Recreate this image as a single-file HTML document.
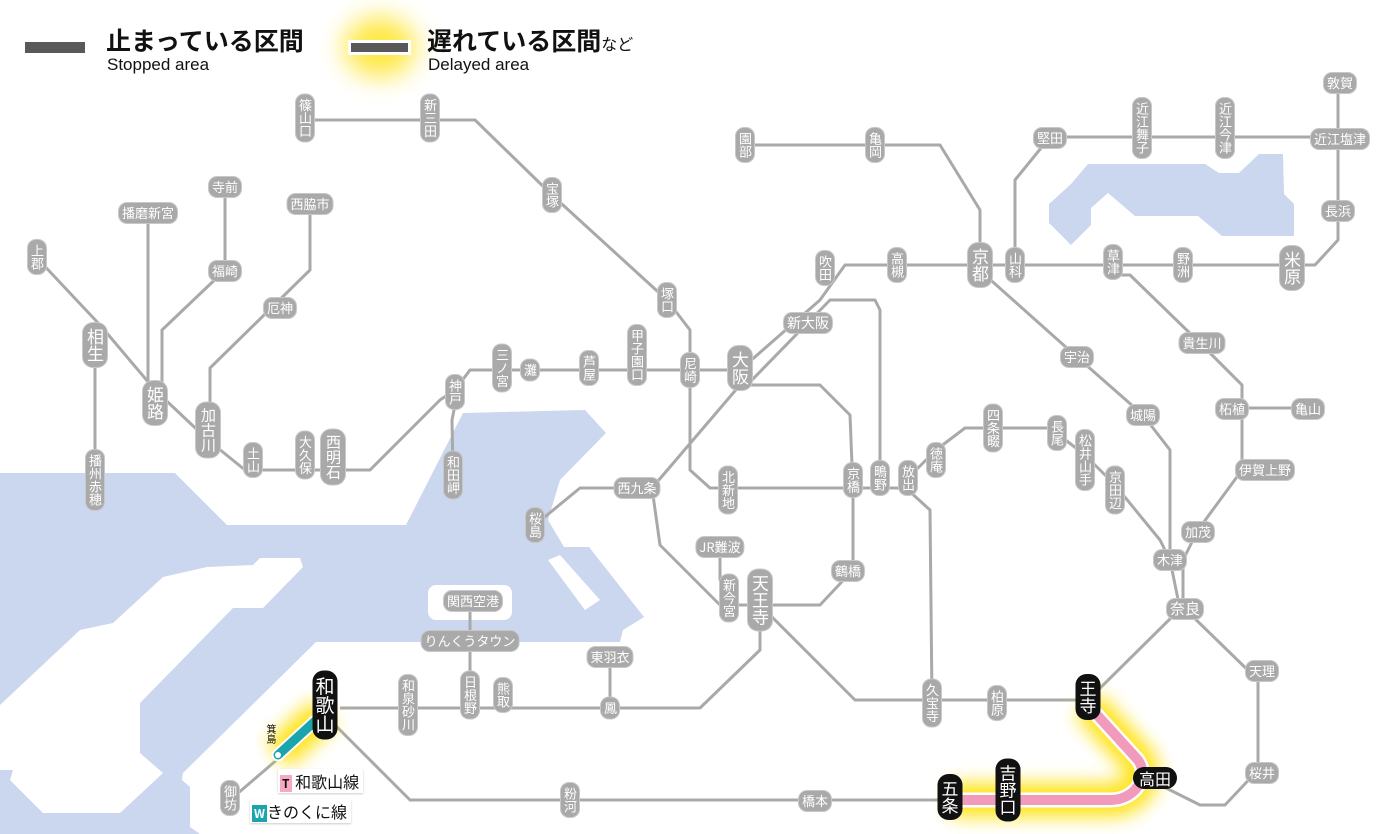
<!DOCTYPE html>
<html><head><meta charset="utf-8"><style>
body{margin:0;width:1400px;height:834px;overflow:hidden;background:#fff;font-family:"Liberation Sans","Noto Sans CJK JP",sans-serif;position:relative}
svg{position:absolute;left:0;top:0}
.s{position:absolute;background:#a9a9a9;color:#fff;border-radius:8px;font-size:13px;line-height:14px;padding:3px 3px;transform:translate(-50%,-50%);white-space:nowrap;font-family:"Noto Sans CJK JP",sans-serif;box-shadow:0 0 0 1px #c8c8c8}
.v{writing-mode:vertical-rl;text-orientation:upright;padding:4px 2px}
.g{font-size:17px;line-height:18px;padding:5px 3px;border-radius:10px}
.k{background:#111;color:#fff;box-shadow:none;font-size:17px;line-height:19px;padding:6px 3px;border-radius:11px}
.kh{background:#111;color:#fff;box-shadow:none;font-size:16px;line-height:18px;padding:2px 6px;border-radius:11px}
.lg{position:absolute;font-family:"Noto Sans CJK JP",sans-serif;color:#111}
</style></head><body>
<svg width="1400" height="834" viewBox="0 0 1400 834">
<defs><filter id="bl" x="-50%" y="-50%" width="200%" height="200%"><feGaussianBlur stdDeviation="9"/></filter>
<filter id="bl2" x="-80%" y="-80%" width="260%" height="260%"><feGaussianBlur stdDeviation="13"/></filter></defs>
<g fill="#cbd7ef">
<polygon points="0,473 175,473 227,525 406,525 463,413 585,410 606,433 560,480 548,520 564,547 589,547 644,617 623,630 620,642 316,642 183,773 182,780 190,787 190,827 200,834 0,834"/>
<polygon points="1088,164 1205,164 1219,173 1239,173 1259,154 1283,154 1284,194 1294,204 1294,236 1222,236 1198,216 1135,216 1108,193 1091,208 1091,225 1071,245 1049,223 1049,204 1071,184"/>
</g>
<g fill="#fff">
<polygon points="260,558 300,558 303,567 263,608 233,608 140,703 140,753 163,773 120,813 43,813 10,780 13,770 0,770 0,705 80,630 113,623 163,577 207,567 253,565"/>
<rect x="428" y="585" width="84" height="35" rx="8"/>
<polygon points="548,560 560,555 600,600 585,610"/>
</g>
<g fill="none" stroke="#a9a9a9" stroke-width="3" stroke-linejoin="round">
<polyline points="37,258 100,325 155,390 208,440 245,470 370,470 440,400 455,390 470,370 740,370"/>
<polyline points="95,330 95,500"/>
<polyline points="148,212 148,395"/>
<polyline points="225,187 225,270 162,330 162,395"/>
<polyline points="310,203 310,270 210,368 210,430"/>
<polyline points="455,405 452,420 453,470"/>
<polyline points="305,120 475,120 552,195 667,300 690,330 690,470 710,488 908,488"/>
<polyline points="740,385 820,385 850,415 853,490 853,570 820,605 720,605 660,545 652,488 740,385"/>
<polyline points="720,547 720,580 729,600"/>
<polyline points="760,605 855,700 1088,700"/>
<polyline points="760,615 760,650 700,708 340,708"/>
<polyline points="470,601 470,708"/><polyline points="610,656 610,708"/>
<polyline points="330,720 410,800 950,800"/>
<polyline points="300,740 230,800"/>
<polyline points="535,525 580,488 652,488"/>
<polyline points="740,370 820,300 845,265 1292,265 1315,265 1338,240 1338,82"/>
<polyline points="750,382 830,300 875,300 880,310 880,490"/>
<polyline points="980,265 980,210 940,145 745,145"/>
<polyline points="1015,265 1015,180 1050,137 1340,137"/>
<polyline points="985,275 1077,357 1143,415 1170,450 1170,560 1180,609"/>
<polyline points="1113,275 1130,275 1200,343 1242,385 1242,470 1198,530 1183,560 1183,609"/>
<polyline points="1242,408 1307,408"/>
<polyline points="908,478 936,450 965,428 1050,428 1085,455 1115,485 1160,540 1170,560"/>
<polyline points="908,490 930,510 932,700"/>
<polyline points="1185,609 1258,680 1258,770 1225,805 1200,805 1160,785"/>
<polyline points="1088,700 1180,609"/>
</g>
<path d="M1088,705 L1138,760 Q1148,775 1135,790 Q1125,800 1110,800 L950,800" fill="none" stroke="#ffe000" stroke-width="34" filter="url(#bl)" opacity=".9"/>
<path d="M325,712 L278,755" stroke="#ffe000" stroke-width="34" filter="url(#bl)" opacity=".9"/>
<path d="M1088,705 L1138,760 Q1148,775 1135,790 Q1125,800 1110,800 L950,800" fill="none" stroke="#fff" stroke-width="15"/>
<path d="M1088,705 L1138,760 Q1148,775 1135,790 Q1125,800 1110,800 L950,800" fill="none" stroke="#f29abc" stroke-width="10"/>
<path d="M325,712 L278,755" stroke="#fff" stroke-width="13" stroke-linecap="round"/>
<path d="M325,712 L278,755" stroke="#1aa5ad" stroke-width="9" stroke-linecap="round"/>
<circle cx="278" cy="755" r="3" fill="#fff"/>
<rect x="25" y="42" width="60" height="11" fill="#595959"/>
<ellipse cx="380" cy="47" rx="36" ry="30" fill="#ffe000" filter="url(#bl2)" opacity=".75"/>
<rect x="348" y="40" width="63" height="15" fill="#fff"/><rect x="351" y="43" width="57" height="9" fill="#595959"/>
</svg>
<div class="lg" style="left:106px;top:22px;font-size:25px;font-weight:bold">止まっている区間</div>
<div class="lg" style="left:107px;top:55px;font-size:17px;font-family:'Liberation Sans',sans-serif">Stopped area</div>
<div class="lg" style="left:427px;top:22px;font-size:25px;font-weight:bold">遅れている区間<span style="font-size:16px;font-weight:normal">など</span></div>
<div class="lg" style="left:428px;top:55px;font-size:17px;font-family:'Liberation Sans',sans-serif">Delayed area</div>

<div class="s v" style="left:305px;top:118px">篠山口</div>
<div class="s v" style="left:430px;top:118px">新三田</div>
<div class="s v" style="left:552px;top:195px">宝塚</div>
<div class="s v" style="left:667px;top:300px">塚口</div>
<div class="s v" style="left:690px;top:370px">尼崎</div>
<div class="s v g" style="left:740px;top:368px">大阪</div>
<div class="s" style="left:808px;top:323px;font-size:14px">新大阪</div>
<div class="s v" style="left:825px;top:268px">吹田</div>
<div class="s v" style="left:897px;top:265px">高槻</div>
<div class="s v g" style="left:980px;top:265px">京都</div>
<div class="s v" style="left:1015px;top:265px">山科</div>
<div class="s v" style="left:1113px;top:262px">草津</div>
<div class="s v" style="left:1183px;top:265px">野洲</div>
<div class="s v g" style="left:1292px;top:268px">米原</div>
<div class="s" style="left:1338px;top:211px">長浜</div>
<div class="s" style="left:1340px;top:139px">近江塩津</div>
<div class="s" style="left:1340px;top:83px">敦賀</div>
<div class="s v" style="left:1225px;top:128px">近江今津</div>
<div class="s v" style="left:1142px;top:128px">近江舞子</div>
<div class="s" style="left:1050px;top:138px">堅田</div>
<div class="s v" style="left:745px;top:145px">園部</div>
<div class="s v" style="left:875px;top:145px">亀岡</div>
<div class="s" style="left:1077px;top:357px">宇治</div>
<div class="s" style="left:1143px;top:415px">城陽</div>
<div class="s" style="left:1202px;top:343px">貴生川</div>
<div class="s" style="left:1232px;top:409px">柘植</div>
<div class="s" style="left:1308px;top:409px">亀山</div>
<div class="s" style="left:1265px;top:470px">伊賀上野</div>
<div class="s" style="left:1198px;top:532px">加茂</div>
<div class="s" style="left:1170px;top:560px">木津</div>
<div class="s" style="left:1185px;top:609px;font-size:15px">奈良</div>
<div class="s" style="left:1262px;top:671px">天理</div>
<div class="s" style="left:1262px;top:773px">桜井</div>
<div class="s kh" style="left:1155px;top:778px">高田</div>
<div class="s v k" style="left:1088px;top:697px">王寺</div>
<div class="s v k" style="left:1008px;top:790px">吉野口</div>
<div class="s v k" style="left:950px;top:797px">五条</div>
<div class="s" style="left:815px;top:801px">橋本</div>
<div class="s v" style="left:570px;top:800px">粉河</div>
<div class="s v k" style="left:325px;top:705px;font-size:19px">和歌山</div>
<div class="s v" style="left:230px;top:798px">御坊</div>
<div class="lg" style="left:264px;top:724px;font-size:10px;writing-mode:vertical-rl;text-orientation:upright">箕島</div>
<div class="lg" style="left:278px;top:769px;font-size:16px;background:#fff;padding:0 4px 0 2px;box-shadow:0 1px 2px #ccc"><span style="background:#f7a8c2;font-size:12px;padding:0 2px;font-weight:bold">T</span> 和歌山線</div>
<div class="lg" style="left:250px;top:799px;font-size:16px;background:#fff;padding:0 4px 0 2px;box-shadow:0 1px 2px #ccc"><span style="background:#1aa5ad;color:#fff;font-size:12px;padding:0 2px;font-weight:bold">W</span>きのくに線</div>
<div class="s v" style="left:932px;top:703px">久宝寺</div>
<div class="s v" style="left:997px;top:703px">柏原</div>
<div class="s v g" style="left:760px;top:600px">天王寺</div>
<div class="s v" style="left:729px;top:598px">新今宮</div>
<div class="s" style="left:720px;top:547px">JR難波</div>
<div class="s" style="left:848px;top:571px">鶴橋</div>
<div class="s v" style="left:853px;top:480px">京橋</div>
<div class="s v" style="left:908px;top:478px">放出</div>
<div class="s v" style="left:880px;top:478px">鴫野</div>
<div class="s v" style="left:936px;top:460px">徳庵</div>
<div class="s v" style="left:993px;top:428px">四条畷</div>
<div class="s v" style="left:1057px;top:433px">長尾</div>
<div class="s v" style="left:1085px;top:460px">松井山手</div>
<div class="s v" style="left:1115px;top:490px">京田辺</div>
<div class="s v" style="left:728px;top:490px">北新地</div>
<div class="s" style="left:637px;top:488px">西九条</div>
<div class="s v" style="left:535px;top:525px">桜島</div>
<div class="s v" style="left:637px;top:355px">甲子園口</div>
<div class="s v" style="left:589px;top:368px">芦屋</div>
<div class="s v" style="left:530px;top:370px">灘</div>
<div class="s v" style="left:502px;top:368px">三ノ宮</div>
<div class="s v" style="left:455px;top:392px">神戸</div>
<div class="s v" style="left:453px;top:475px">和田岬</div>
<div class="s v g" style="left:333px;top:457px;font-size:15px">西明石</div>
<div class="s v" style="left:305px;top:455px">大久保</div>
<div class="s v" style="left:253px;top:460px">土山</div>
<div class="s v g" style="left:208px;top:430px;font-size:15px">加古川</div>
<div class="s v g" style="left:155px;top:403px">姫路</div>
<div class="s v g" style="left:95px;top:345px">相生</div>
<div class="s v" style="left:37px;top:257px">上郡</div>
<div class="s v" style="left:95px;top:480px">播州赤穂</div>
<div class="s" style="left:148px;top:213px">播磨新宮</div>
<div class="s" style="left:225px;top:187px">寺前</div>
<div class="s" style="left:225px;top:271px">福崎</div>
<div class="s" style="left:310px;top:204px">西脇市</div>
<div class="s" style="left:280px;top:308px">厄神</div>
<div class="s" style="left:473px;top:601px">関西空港</div>
<div class="s" style="left:470px;top:641px">りんくうタウン</div>
<div class="s v" style="left:470px;top:695px">日根野</div>
<div class="s v" style="left:503px;top:695px">熊取</div>
<div class="s v" style="left:408px;top:705px">和泉砂川</div>
<div class="s" style="left:610px;top:657px">東羽衣</div>
<div class="s v" style="left:610px;top:708px">鳳</div>
</body></html>
